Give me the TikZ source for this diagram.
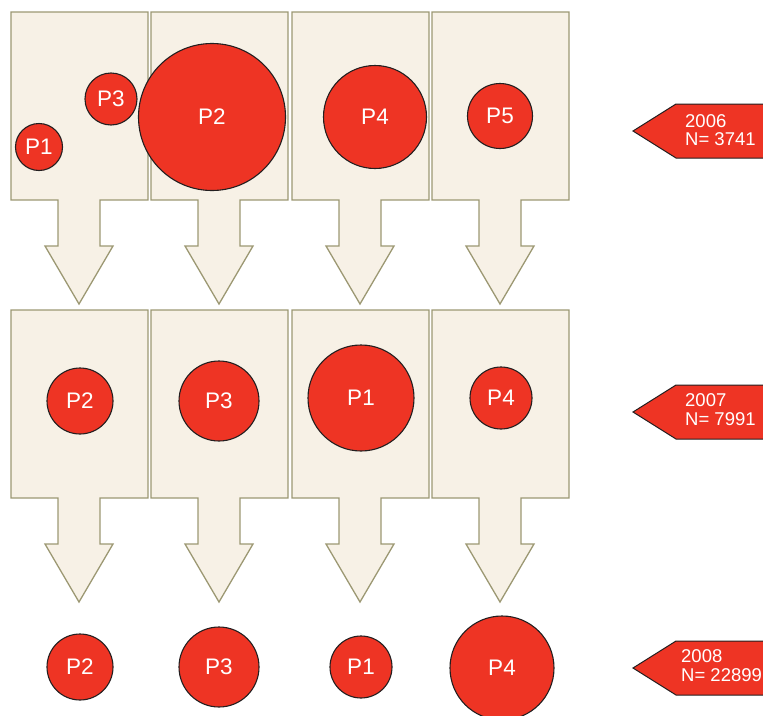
\documentclass[tikz,border=0pt]{standalone}
\usepackage{fontspec}
\setmainfont{Liberation Sans}
\definecolor{cream}{HTML}{F7F1E6}
\definecolor{olive}{HTML}{9C9873}
\definecolor{pred}{HTML}{EE3424}
\definecolor{ink}{HTML}{231F20}
\begin{document}
\begin{tikzpicture}[x=1pt,y=-1pt,
  panel/.style={fill=cream,draw=olive,line width=1.3pt,line join=miter},
  bub/.style={circle,fill=pred,draw=ink,line width=1.1pt,inner sep=0pt,text=white,font=\fontsize{22.5}{22.5}\selectfont},
  tagshape/.style={fill=pred,draw=ink,line width=1pt},
  tagtext/.style={text=white,font=\fontsize{18.5}{18}\selectfont,anchor=base west,inner sep=0pt}]
\useasboundingbox (0,0) rectangle (763,715);
\begin{scope}
\clip (0,0) rectangle (763,715);
% panels with down arrows
\foreach \T in {12,310}{
  \foreach \L in {11,151,292,432}{
    \pgfmathsetmacro{\C}{\L+68}
    \path[panel] (\L,\T) -- ({\L+137},\T) -- ({\L+137},{\T+188})
      -- ({\C+21},{\T+188}) -- ({\C+21},{\T+234}) -- ({\C+34},{\T+234})
      -- (\C,{\T+292}) -- ({\C-34},{\T+234}) -- ({\C-21},{\T+234})
      -- ({\C-21},{\T+188}) -- (\L,{\T+188}) -- cycle;
  }
}
% row 2006
\node[bub,minimum size=47pt]  (a1) at (39,147) {P1};
\node[bub,minimum size=52pt]  (a3) at (111,99) {P3};
\node[bub,minimum size=147pt] (a2) at (212,117) {P2};
\node[bub,minimum size=103pt] (a4) at (375,117) {P4};
\node[bub,minimum size=65pt]  (a5) at (500,116) {P5};
% row 2007
\node[bub,minimum size=66pt]  (b2) at (80,401) {P2};
\node[bub,minimum size=80pt]  (b3) at (219,401) {P3};
\node[bub,minimum size=106pt] (b1) at (361,398) {P1};
\node[bub,minimum size=62pt]  (b4) at (501,398) {P4};
% row 2008
\node[bub,minimum size=66pt]  (c2) at (80,667) {P2};
\node[bub,minimum size=80pt]  (c3) at (219,667) {P3};
\node[bub,minimum size=62pt]  (c1) at (361,667) {P1};
\node[bub,minimum size=104pt] (c4) at (502,668) {P4};
% year tags
\foreach \cy in {131,412,668}{
  \path[tagshape] (633,\cy) -- (676,{\cy-27}) -- (775,{\cy-27}) -- (775,{\cy+27}) -- (676,{\cy+27}) -- cycle;
}
\end{scope}
\node[tagtext] (y6) at (685,127) {2006};
\node[tagtext] (n6) at (685,145) {N= 3741};
\node[tagtext] (y7) at (685,406) {2007};
\node[tagtext] (n7) at (685,425) {N= 7991};
\node[tagtext] (y8) at (681,662) {2008};
\node[tagtext] (n8) at (681,681) {N= 22899};
\end{tikzpicture}
\end{document}
